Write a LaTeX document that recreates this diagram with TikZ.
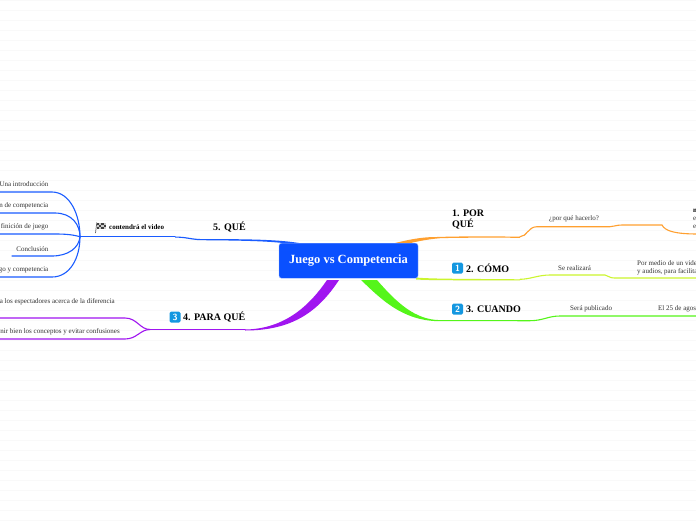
\documentclass[tikz,border=0pt]{standalone}
\usepackage{fontspec}
\setmainfont{Liberation Serif}
\usetikzlibrary{calc}
\definecolor{rootblue}{HTML}{0A50FF}
\definecolor{bluebr}{HTML}{1A5CFF}
\definecolor{orangebr}{HTML}{FFA030}
\definecolor{yellowbr}{HTML}{CCF52E}
\definecolor{greenbr}{HTML}{55F51A}
\definecolor{purplebr}{HTML}{A015F0}
\definecolor{gridc}{HTML}{F9F9F9}
\definecolor{badgec}{HTML}{1497E0}
\tikzset{
 small/.style={font=\fontsize{7}{8}\selectfont,text=black!80,inner sep=0pt,anchor=west},
 smallE/.style={small,anchor=east},
 topic/.style={font=\fontsize{10}{11}\selectfont\bfseries,inner sep=0pt,anchor=west,align=left},
 bold small/.style={font=\fontsize{7}{8}\selectfont\bfseries,inner sep=0pt,anchor=west},
 badge/.style={fill=badgec,rounded corners=1.5pt,minimum size=11pt,inner sep=0pt,text=white,font=\fontsize{9}{9}\selectfont\sffamily\bfseries},
 thin br/.style={line width=1.1pt,line cap=round},
 rootbox/.style={fill=rootblue,draw=rootblue!45!white,line width=0.4pt,rounded corners=2.5pt,minimum width=139pt,minimum height=35pt,inner sep=0pt,text=white,font=\fontsize{12.5}{14}\selectfont\bfseries}
}
\begin{document}
\begin{tikzpicture}[x=1pt,y=-1pt]
\useasboundingbox (0,0) rectangle (696,520);
\clip (0,0) rectangle (696,520);
\fill[white] (0,0) rectangle (696,520);
\foreach \yy in {0,10,...,520} \draw[gridc,line width=0.8pt] (0,\yy+0.5) -- (696,\yy+0.5);
% junctions
\coordinate (jblue) at (80,236.7);
\coordinate (jblueA) at (175,236.7);
\coordinate (jblueB) at (200,239);
\coordinate (jpur) at (150,329.5);
\coordinate (e1) at (-2,192); \coordinate (e2) at (-2,213); \coordinate (e3) at (-2,234); \coordinate (e4) at (12,256); \coordinate (e5) at (-2,277);
\coordinate (p1) at (-2,318); \coordinate (p2) at (-2,339);
\coordinate (o1) at (437,237); \coordinate (o2) at (520,236.7); \coordinate (o3) at (537,226.7); \coordinate (o4) at (662,225); \coordinate (o5) at (698,234);
\coordinate (y1) at (520,279.3); \coordinate (y2) at (550,275); \coordinate (y3) at (605,275); \coordinate (y4) at (615,278); \coordinate (y5) at (698,278);
\coordinate (g1) at (530,320.7); \coordinate (g2) at (560,316); \coordinate (g3) at (698,316);
\coordinate (pu1) at (245,329.5);
% tapered branches from the root
\fill[bluebr] (302,243.5) .. controls (280,239.5) and (250,239.1) .. (jblueB) .. controls (190,238.6) and (185,236.2) .. (jblueA)
  -- ($(jblueA)+(0,1)$) .. controls (185,237.4) and (190,239.8) .. (200,240.2) .. controls (250,240.5) and (275,241.5) .. (290,244) -- cycle;
\fill[orangebr] (392,243.8) .. controls (405,240.5) and (420,236.9) .. (o1) .. controls (460,236.2) and (490,236.2) .. (o2)
  -- ($(o2)+(0,1.1)$) .. controls (490,237.6) and (460,237.6) .. (440,238.2) .. controls (425,239.5) and (415,242) .. (402,245) -- cycle;
\fill[yellowbr] (416,277.5) .. controls (430,279) and (470,278.8) .. (y1) -- ($(y1)+(0,1.1)$) .. controls (470,280.2) and (430,280.5) .. (416,279.5) -- cycle;
\fill[greenbr] (361,280) .. controls (380,298) and (402,321.2) .. (440,321.2) -- ($(g1)+(0,0.55)$) -- ($(g1)+(0,-0.55)$) -- (440,320.1) .. controls (415,320) and (396,302) .. (377,280) -- cycle;
\fill[purplebr] (327,280) .. controls (310,305) and (285,329) .. (pu1) -- ($(pu1)+(0,1)$) .. controls (292,330.5) and (318,312) .. (339,280) -- cycle;
% thin continuation
\draw[bluebr,thin br] (jblue) -- (jblueA);
\draw[orangebr,thin br] (o2) .. controls (527,236.7) and (528,226.7) .. (o3) -- (610,226.7) .. controls (614,226.7) and (616,225) .. (622,225) -- (o4) .. controls (665,231) and (675,234) .. (o5);
\draw[yellowbr,thin br] (y1) .. controls (530,279.3) and (538,275) .. (y2) -- (y3) .. controls (608,275) and (608,278) .. (y4) -- (y5);
\draw[greenbr,thin br] (g1) .. controls (543,320.7) and (548,316) .. (g2) -- (g3);
\draw[purplebr,thin br] (jpur) -- (pu1);
\draw[purplebr,thin br] (jpur) .. controls (140,329.5) and (137,318) .. (125,318) -- (p1);
\draw[purplebr,thin br] (jpur) .. controls (140,329.5) and (137,339) .. (125,339) -- (p2);
\draw[bluebr,thin br] (jblue) .. controls (80,215) and (70,192) .. (52,192) -- (e1);
\draw[bluebr,thin br] (jblue) .. controls (80,225) and (72,213) .. (55,213) -- (e2);
\draw[bluebr,thin br] (jblue) .. controls (72,234.5) and (65,234) .. (55,234) -- (e3);
\draw[bluebr,thin br] (jblue) .. controls (79,248) and (68,256) .. (52,256) -- (e4);
\draw[bluebr,thin br] (jblue) .. controls (80,258) and (70,277) .. (52,277) -- (e5);
% root
\node[rootbox] (root) at (348.5,260.7) {Juego vs Competencia};
% labels
\node[smallE] (n1) at (48.5,184) {Una introducción};
\node[smallE] (n2) at (48.5,206) {n de competencia};
\node[smallE] (n3) at (48.5,227) {finición de juego};
\node[smallE] (n4) at (48.5,249) {Conclusión};
\node[smallE] (n5) at (48.5,270) {go y competencia};
\node[bold small] (vid) at (109,227) {contendrá el video};
\node[topic] (que) at (213,227.5) {5. QUÉ};
\node[badge] (b3) at (175,317) {3};
\node[topic] (para) at (183,317) {4. PARA QUÉ};
\node[smallE] (p1t) at (115,302) {a los espectadores acerca de la diferencia};
\node[smallE] (p2t) at (120,332) {nir bien los conceptos y evitar confusiones};
\node[topic] (por) at (452,219.5) {1. POR\\QUÉ};
\node[badge] (b1) at (457.5,268) {1};
\node[topic] (como) at (466,268) {2. CÓMO};
\node[badge] (b2) at (457.5,309) {2};
\node[topic] (cuando) at (466,309) {3. CUANDO};
\node[small] (hac) at (549,219) {¿por qué hacerlo?};
\node[small] (rea) at (558,268) {Se realizará};
\node[small] (med) at (637,263) {Por medio de un vide};
\node[small] (aud) at (637,272) {y audios, para facilita};
\node[small] (pub) at (570,309) {Será publicado};
\node[small] (ago) at (658,309) {El 25 de agos};
\node[bold small] (r1) at (693,210.5) {n};
\node[small] (r2) at (693,219) {e};
\node[small] (r3) at (693,227) {e};
% flag
\draw[black!60,line width=0.7pt] (95.5,233) -- (96.8,222.5);
\foreach \i in {0,1,2,3} \foreach \j in {0,1,2} {
  \pgfmathparse{int(mod(\i+\j,2))}
  \ifnum\pgfmathresult=0 \fill[black!75] (96.8+\i*2.3,223+\j*2.1) rectangle ++(2.3,2.1);\else\fill[black!20] (96.8+\i*2.3,223+\j*2.1) rectangle ++(2.3,2.1);\fi
}
\end{tikzpicture}
\end{document}
